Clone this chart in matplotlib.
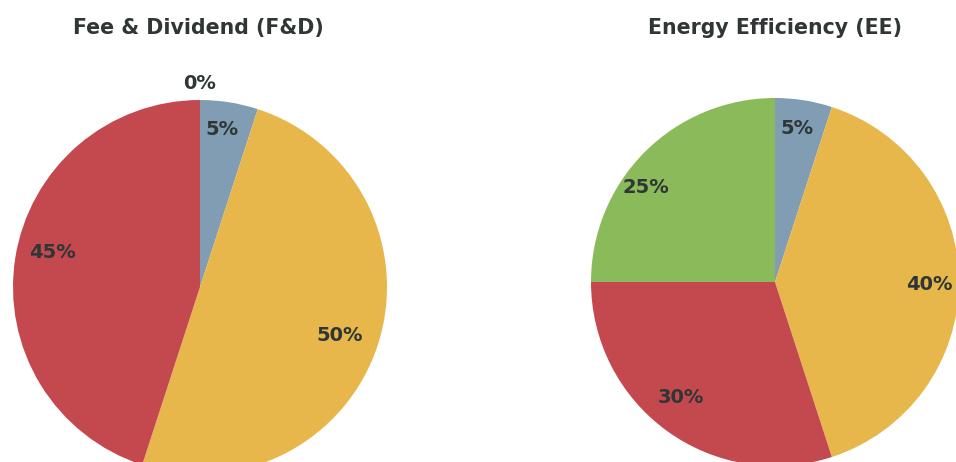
import matplotlib
matplotlib.use("Agg")
import matplotlib.pyplot as plt
import numpy as np

W, H = 956, 462

categories = ["Blue", "Yellow", "Red", "Green"]
fd_values = [5, 50, 45, 0]
ee_values = [5, 40, 30, 25]
fd_labels = ["5%", "50%", "45%", "0%"]
ee_labels = ["5%", "40%", "30%", "25%"]
titles = ["Fee & Dividend (F&D)", "Energy Efficiency (EE)"]

colors = ["#809db3", "#e8b74b", "#c4494f", "#8bba5a"]
text_color = "#2e3636"

# label placement style: (distance, angle nudge in degrees) per slice
fd_label_style = [(0.85, 1), (0.79, -1), (0.81, -4), (1.09, 0)]
ee_label_style = [(0.84, 1), (0.84, -1), (0.81, -3), (0.87, 9)]

fig = plt.figure(figsize=(W / 100, H / 100), dpi=100)
fig.patch.set_facecolor("white")


def make_axes(cx, cy, r):
    return fig.add_axes([(cx - r) / W, (H - cy - r) / H, 2 * r / W, 2 * r / H])


specs = [
    (200, 287, 187, fd_values, fd_labels, fd_label_style, titles[0], 198),
    (775, 282, 184, ee_values, ee_labels, ee_label_style, titles[1], 775),
]

for cx, cy, r, vals, labs, lstyle, title, tx in specs:
    ax = make_axes(cx, cy, r)
    wedges, _ = ax.pie(vals, colors=colors, startangle=90, counterclock=False,
                       radius=1.0, wedgeprops=dict(linewidth=0))
    ax.set_xlim(-1, 1)
    ax.set_ylim(-1, 1)
    ax.set_aspect("equal")
    ax.axis("off")
    for w, lab, (d, nudge) in zip(wedges, labs, lstyle):
        ang = np.deg2rad((w.theta1 + w.theta2) / 2 + nudge)
        ax.text(d * np.cos(ang), d * np.sin(ang), lab, ha="center", va="center",
                fontsize=14, fontweight="bold", color=text_color, clip_on=False)
    fig.text(tx / W, 1 - 28 / H, title, ha="center", va="center",
             fontsize=14.8, fontweight="bold", color=text_color)

fig.savefig("out.png", dpi=100)
